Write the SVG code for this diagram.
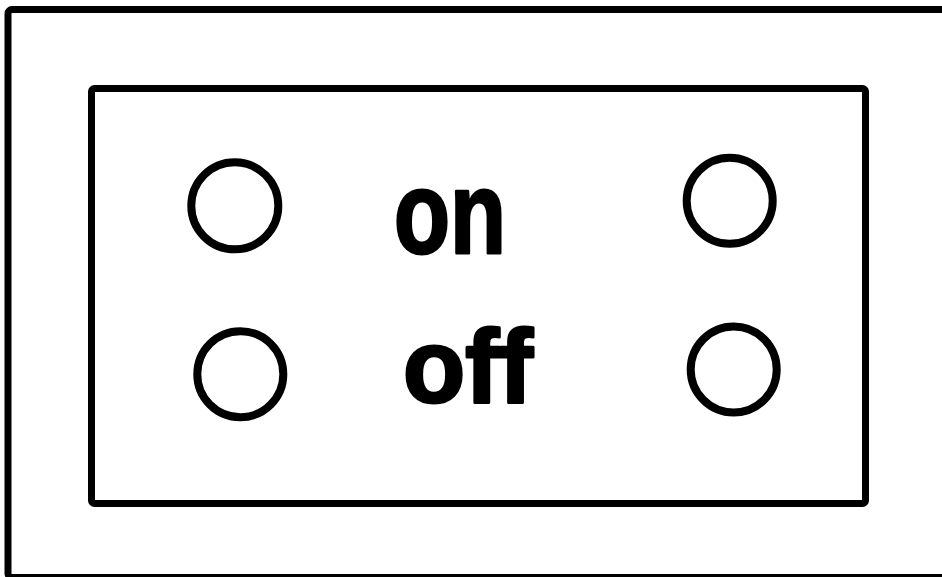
<svg xmlns="http://www.w3.org/2000/svg" width="942" height="577" viewBox="0 0 942 577">
<style>
.box{fill:none;stroke:#000;stroke-width:7;stroke-linejoin:round}
.led{fill:none;stroke:#000;stroke-width:8}
.lbl{font-family:"Liberation Sans",Arial,sans-serif;font-weight:bold;fill:#000;stroke:#000;stroke-width:3;stroke-linejoin:round}
</style>
<rect width="942" height="577" fill="#fff"/>
<g id="outer"><rect class="box" x="8" y="9.5" width="940" height="568" rx="4"/></g>
<g id="panel"><rect class="box" x="91.5" y="88.5" width="774" height="415" rx="3"/></g>
<g id="led-tl"><circle class="led" cx="234.8" cy="205.8" r="43.5"/></g>
<g id="led-tr"><circle class="led" cx="729.7" cy="200.8" r="43"/></g>
<g id="led-bl"><circle class="led" cx="240.3" cy="374.2" r="43"/></g>
<g id="led-br"><circle class="led" cx="733.7" cy="369.5" r="43"/></g>
<g id="label-on"><text class="lbl" x="394" y="253" font-size="116" textLength="112" lengthAdjust="spacingAndGlyphs">on</text></g>
<g id="label-off"><text class="lbl" x="403" y="402" font-size="104" textLength="130" lengthAdjust="spacingAndGlyphs">off</text></g>
<g id="connectors"></g>
</svg>
